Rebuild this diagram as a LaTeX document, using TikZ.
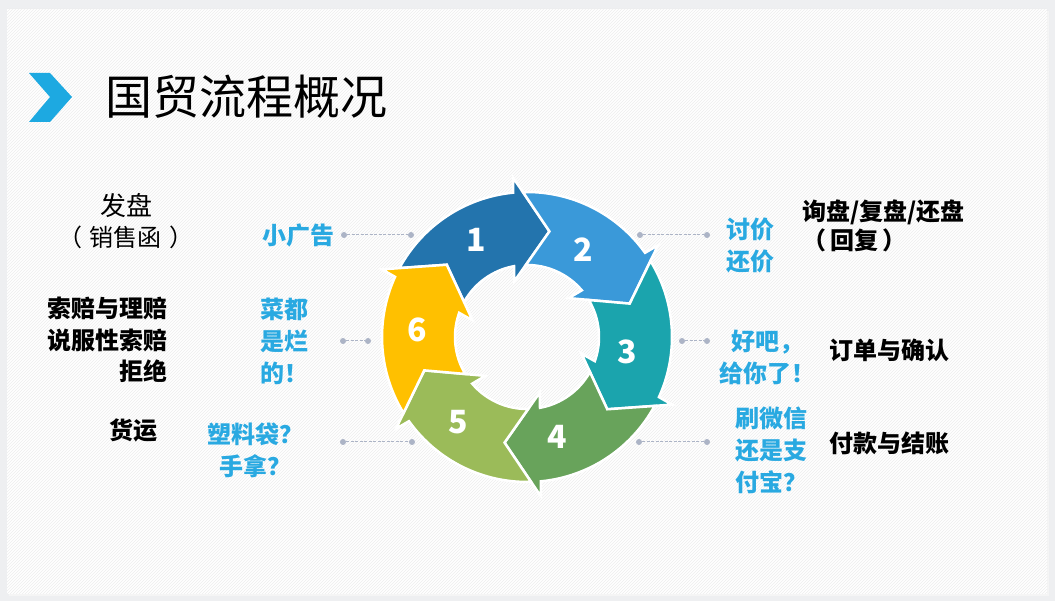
\documentclass[tikz,border=0pt]{standalone}
\usepackage{fontspec}
\setmainfont{Noto Sans CJK SC}
\usetikzlibrary{calc}
\usetikzlibrary{patterns}

\definecolor{bggray}{RGB}{238,239,241}
\definecolor{segA}{RGB}{35,116,173}
\definecolor{segB}{RGB}{58,153,217}
\definecolor{segC}{RGB}{27,164,173}
\definecolor{segD}{RGB}{104,163,91}
\definecolor{segE}{RGB}{155,187,89}
\definecolor{segF}{RGB}{255,192,0}
\definecolor{tipblue}{RGB}{41,169,225}
\definecolor{markblue}{RGB}{29,169,225}
\definecolor{dotgray}{RGB}{172,180,198}

\tikzset{
  seg/.style={draw=white, line width=2.5pt, line join=miter},
  num/.style={text=white, font=\bfseries\fontsize{32}{32}\selectfont},
  tip/.style={text=tipblue, font=\bfseries\fontsize{24}{32}\selectfont, inner sep=0pt},
  note/.style={font=\fontsize{24}{31}\selectfont, inner sep=0pt},
  dot/.style={circle, fill=dotgray, inner sep=0pt, minimum size=6pt},
  lead/.style={draw=dotgray, line width=1pt, dash pattern=on 3pt off 1.5pt}
}

\begin{document}
\begin{tikzpicture}[x=1pt, y=1pt]
\def\ro{145}
\def\ri{72}
% one arrow of the wheel: base angle, colour
\def\arrowseg#1#2{%
  \filldraw [seg, fill=#2] (#1+56.6:\ro) arc [start angle=#1+56.6, end angle=#1+0.5, radius=\ro]
    -- (#1:160) -- (#1-17:108) -- (#1+8:57) -- (#1+5.4:\ri)
    arc [start angle=#1+5.4, end angle=#1+55.9, radius=\ri] -- (#1+43:108) -- cycle;}

% slide
\fill [bggray] (0, 0) rectangle (1055, 601);
\fill [black!4] (9, 5) rectangle (1049, 590);
\fill [white] (7, 7) rectangle (1047, 592);
\fill [pattern=north east lines, pattern color=black!7] (7, 7) rectangle (1047, 592);

% title
\fill [markblue] (29, 528) -- (50, 528) -- (72, 504) -- (50, 479) -- (29, 479) -- (50, 504) -- cycle;
\node (title) [anchor=west, inner sep=0pt, font=\fontsize{47}{47}\selectfont] at (105, 504) {国贸流程概况};

% wheel
\begin{scope}[shift={(527, 264)}]
\arrowseg{95}{segA}
\arrowseg{35}{segB}
\arrowseg{-25}{segC}
\arrowseg{-85}{segD}
\arrowseg{-145}{segE}
\arrowseg{155}{segF}
\end{scope}

\node (n1) [num] at (476, 361) {1};
\node (n2) [num] at (583, 351) {2};
\node (n3) [num] at (627, 249) {3};
\node (n4) [num] at (557, 164) {4};
\node (n5) [num] at (458, 179) {5};
\node (n6) [num] at (417, 271) {6};

% leaders
\node (l1a) [dot] at (344, 366) {};
\node (l1b) [dot] at (411, 366) {};
\node (r1a) [dot] at (640, 366) {};
\node (r1b) [dot] at (707, 366) {};
\node (l2a) [dot] at (343, 260) {};
\node (l2b) [dot] at (368, 260) {};
\node (r2a) [dot] at (682, 260) {};
\node (r2b) [dot] at (707, 260) {};
\node (l3a) [dot] at (343, 159) {};
\node (l3b) [dot] at (412, 159) {};
\node (r3a) [dot] at (639, 159) {};
\node (r3b) [dot] at (707, 159) {};

\draw [lead] (l1a) -- (l1b);
\draw [lead] (r1a) -- (r1b);
\draw [lead] (l2a) -- (l2b);
\draw [lead] (r2a) -- (r2b);
\draw [lead] (l3a) -- (l3b);
\draw [lead] (r3a) -- (r3b);

% blue remarks
\node (adv) [tip] at (298, 366) {小广告};
\node (bad) [tip, anchor=west, align=left] at (260, 260) {菜都\\是烂\\的！};
\node (bag) [tip, align=center] at (255, 151) {塑料袋？\\手拿？};
\node (bid) [tip, align=center] at (750, 355) {讨价\\还价};
\node (okay) [tip, align=center] at (767, 244) {好吧，\\给你了！};
\node (pay) [tip, anchor=west, align=left] at (735, 151) {刷微信\\还是支\\付宝？};

% steps
\node (offer) [note, align=center] at (126, 380) {{\fontsize{26}{31}\selectfont 发盘}\\（\hspace{8pt}销售函\hspace{8pt}）};
\node (claim) [note, anchor=east, align=right, font=\bfseries\fontsize{24}{31.5}\selectfont] at (168, 261) {索赔与理赔\\说服性索赔\\拒绝};
\node (ship) [note, font=\bfseries\fontsize{24}{31}\selectfont] at (133, 171) {货运};
\node (inquiry) [note, anchor=west, align=left, font=\bfseries\fontsize{24}{29}\selectfont] at (802, 375) {询盘/复盘/还盘\\（\hspace{4pt}回复\hspace{4pt}）};
\node (order) [note, anchor=west, font=\bfseries\fontsize{24}{31}\selectfont] at (829, 251) {订单与确认};
\node (settle) [note, anchor=west, font=\bfseries\fontsize{24}{31}\selectfont] at (829, 158) {付款与结账};
\end{tikzpicture}
\end{document}
